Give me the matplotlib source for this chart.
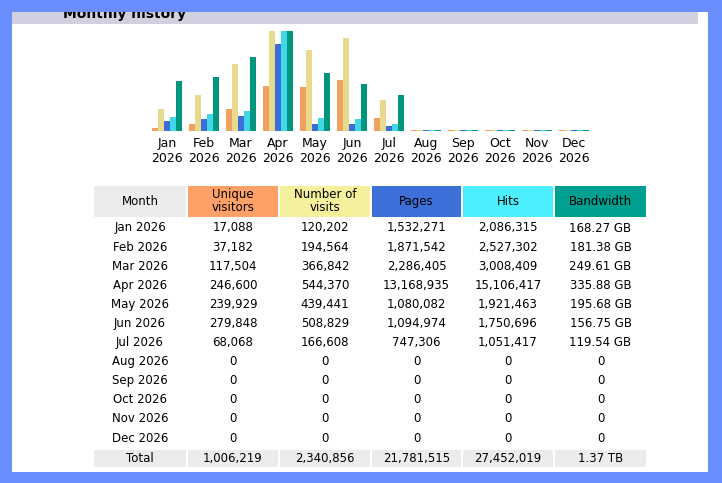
import matplotlib
matplotlib.use("Agg")
import matplotlib.pyplot as plt
from matplotlib.patches import Rectangle

months = ["Jan", "Feb", "Mar", "Apr", "May", "Jun", "Jul", "Aug", "Sep", "Oct", "Nov", "Dec"]
year = "2026"
visitors = [17088, 37182, 117504, 246600, 239929, 279848, 68068, 0, 0, 0, 0, 0]
visits = [120202, 194564, 366842, 544370, 439441, 508829, 166608, 0, 0, 0, 0, 0]
pages = [1532271, 1871542, 2286405, 13168935, 1080082, 1094974, 747306, 0, 0, 0, 0, 0]
hits = [2086315, 2527302, 3008409, 15106417, 1921463, 1750696, 1051417, 0, 0, 0, 0, 0]
bandwidth_gb = [168.27, 181.38, 249.61, 335.88, 195.68, 156.75, 119.54, 0, 0, 0, 0, 0]
bandwidth_lbl = ["168.27 GB", "181.38 GB", "249.61 GB", "335.88 GB", "195.68 GB", "156.75 GB",
                 "119.54 GB", "0", "0", "0", "0", "0"]
totals = ["Total", "1,006,219", "2,340,856", "21,781,515", "27,452,019", "1.37 TB"]
headers = ["Month", "Unique\nvisitors", "Number of\nvisits", "Pages", "Hits", "Bandwidth"]
col_u, col_v, col_p, col_h, col_k = "#F0A060", "#E8DA8C", "#3C6ED8", "#40D8E8", "#00957E"
hdr_colors = ["#ECECEC", "#FFA066", "#F4F09C", "#3C70D8", "#4AEEFF", "#00A090"]

W, H = 722, 483
fig = plt.figure(figsize=(W / 100, H / 100), dpi=100)
fig.patch.set_facecolor("#6A8EFF")

def px(x, y, w, h):
    return [x / W, 1 - (y + h) / H, w / W, h / H]

def rect(x, y, w, h, color, z=1):
    fig.add_artist(Rectangle((x / W, 1 - (y + h) / H), w / W, h / H, transform=fig.transFigure,
                             facecolor=color, edgecolor="none", zorder=z))

def txt(x, y, s, **kw):
    fig.text(x / W, 1 - y / H, s, ha=kw.pop("ha", "center"), va=kw.pop("va", "center"),
             fontsize=kw.pop("fontsize", 8.5), family="DejaVu Sans", **kw)

rect(12, 12, 696, 460, "white", -3)
rect(12, 12, 686, 12, "#D0D0E0", -2)
txt(63, 14, "Monthly history", ha="left", fontsize=10, fontweight="bold", zorder=2)
rect(0, 0, W, 12, "#6A8EFF", 5)

# bar chart
ax = fig.add_axes(px(148.5, 31, 444, 100))
ax.set_xlim(-0.5, 11.5)
ax.set_ylim(0, 1)
ax.axis("off")
bw = 6 / 37
series = [(visitors, max(visits), col_u), (visits, max(visits), col_v),
          (pages, max(hits), col_p), (hits, max(hits), col_h),
          (bandwidth_gb, max(bandwidth_gb), col_k)]
for j, (vals, m, c) in enumerate(series):
    xs = [i + (j - 2) * bw for i in range(12)]
    hs = [max(v / m, 0.012) for v in vals]
    ax.bar(xs, hs, width=bw, color=c, edgecolor="none")
for i, mname in enumerate(months):
    x = 167 + i * 37
    txt(x, 143, mname, fontsize=9)
    txt(x, 158, year, fontsize=9)

# table
cols = [(94, 92), (188, 90), (280, 90), (372, 89), (463, 90), (555, 91)]
for (x, w), hc, hd in zip(cols, hdr_colors, headers):
    rect(x, 186, w, 31, hc)
    txt(x + w / 2, 201.5, hd, fontsize=8.5, linespacing=1.0)
rows = []
for i in range(12):
    rows.append([f"{months[i]} {year}", f"{visitors[i]:,}", f"{visits[i]:,}",
                 f"{pages[i]:,}", f"{hits[i]:,}", bandwidth_lbl[i]])
for r, row in enumerate(rows):
    y = 228 + r * 19.1
    for (x, w), s in zip(cols, row):
        txt(x + w / 2, y, s, fontsize=8.5)
for (x, w), s in zip(cols, totals):
    rect(x, 450, w, 17, "#ECECEC")
    txt(x + w / 2, 458.5, s, fontsize=8.5)

fig.savefig("out.png", dpi=100, facecolor=fig.get_facecolor())
